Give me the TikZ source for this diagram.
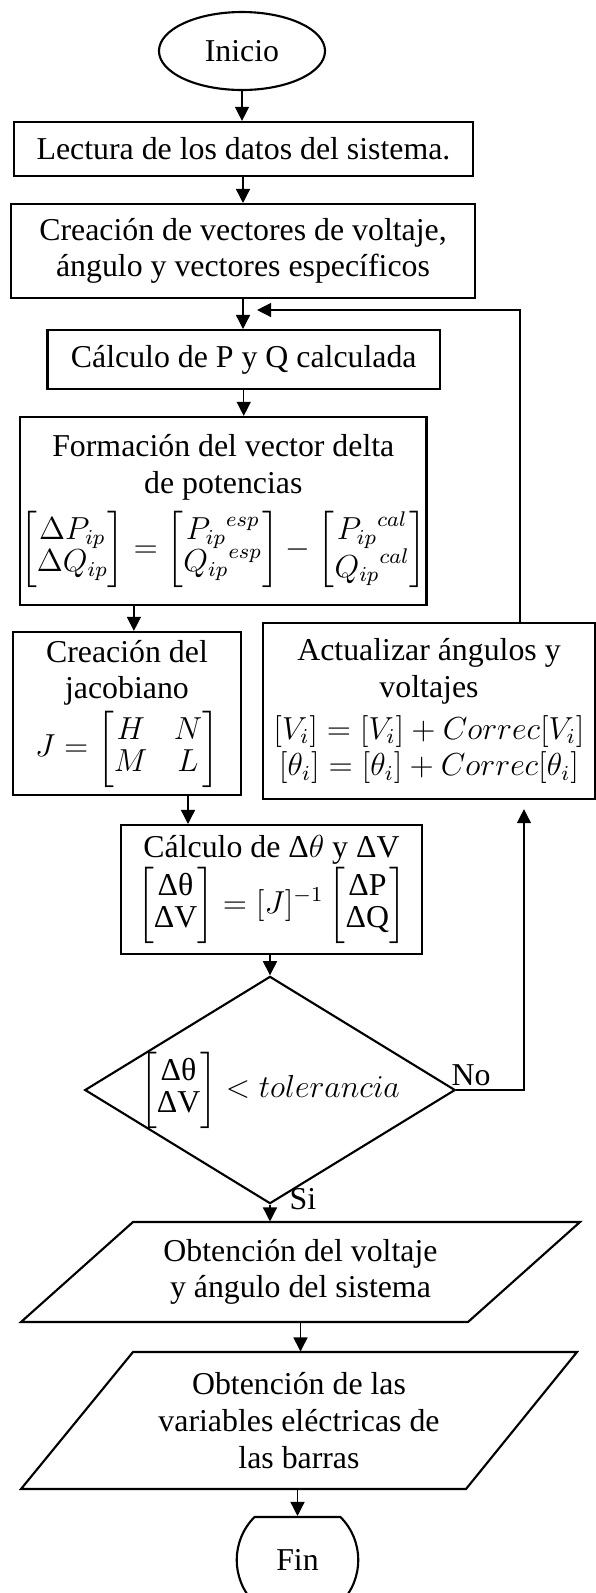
\documentclass[tikz,border=0pt]{standalone}
\usepackage{amsmath}
\usepackage{fontspec}
\setmainfont{Liberation Serif}
\usetikzlibrary{shapes.geometric,shapes.misc,arrows.meta}
\renewcommand{\arraystretch}{0.87}

\begin{document}
\begin{tikzpicture}[x=0.377pt,y=-0.377pt,
  >={Triangle[length=5.3pt,width=5.3pt]},
  every node/.style={font=\fontsize{12}{13.8}\selectfont, inner sep=0pt},
  box/.style={draw, line width=0.8pt, align=center},
  flow/.style={line width=0.5pt}]
\useasboundingbox (0,0) rectangle (596,1593);
\clip (0,0) rectangle (596,1593);
\node[box, ellipse, minimum width=62.6pt, minimum height=29.4pt] (ini) at (242,51) {Inicio};
\node[box, minimum width=173pt, minimum height=20.4pt] (lec) at (243.5,149) {Lectura de los datos del sistema.};
\node[box, minimum width=174.9pt, minimum height=35.4pt] (cre) at (243,251) {Creación de vectores de voltaje,\\ ángulo y vectores específicos};
\node[box, minimum width=148pt, minimum height=22.2pt] (cpq) at (243.75,359.5) {Cálculo de P y Q calculada};
\node[box, minimum width=150.6pt, minimum height=70.9pt] (for) at (223.3,511) {Formación del vector delta\\ de potencias\\[3pt]
  $\begin{bmatrix}\Delta P_{ip}\\ \Delta Q_{ip}\end{bmatrix}=\begin{bmatrix}{P_{ip}}^{esp}\\ {Q_{ip}}^{esp}\end{bmatrix}-\begin{bmatrix}{P_{ip}}^{cal}\\ {Q_{ip}}^{cal}\end{bmatrix}$};
\node[box, minimum width=86pt, minimum height=61.5pt] (jac) at (127,713.5) {Creación del\\ jacobiano\\[1pt]
  $J=\begin{bmatrix}H & N\\ M & L\end{bmatrix}$};
\node[box, minimum width=125.2pt, minimum height=66.4pt] (act) at (429,711) {Actualizar ángulos y\\ voltajes\\[2pt]
  $[V_i]=[V_i]+Correc[V_i]$\\ $[\theta_i]=[\theta_i]+Correc[\theta_i]$};
\node[box, minimum width=113.5pt, minimum height=48.6pt] (cdt) at (271.5,889.5) {Cálculo de Δ$\theta$ y ΔV\\
  $\begin{bmatrix}\text{Δθ}\\ \text{ΔV}\end{bmatrix}=[J]^{-1}\begin{bmatrix}\text{ΔP}\\ \text{ΔQ}\end{bmatrix}$};
\node[box, diamond, aspect=1.63, inner sep=-1pt, minimum width=128.6pt, minimum height=78.8pt] (dec) at (270,1090)
  {$\begin{bmatrix}\text{Δθ}\\ \text{ΔV}\end{bmatrix}<tolerancia$};
\node[align=center, minimum height=37.7pt] (obta) at (300.5,1272) {Obtención del voltaje\\ y ángulo del sistema};
\draw[line width=0.8pt] (133,1222) -- (580,1222) -- (468,1322) -- (21,1322) -- cycle;
\node[align=center, minimum height=51.6pt] (obtb) at (299,1420.5) {Obtención de las\\ variables eléctricas de\\ las barras};
\draw[line width=0.8pt] (133,1352) -- (577,1352) -- (466,1489) -- (21,1489) -- cycle;
\node[box, rounded rectangle, rounded rectangle arc length=90, minimum width=41.1pt, minimum height=32.4pt] (fin) at (297.5,1560) {Fin};
\node (no) at (471,1075) {No};
\node (si) at (303,1199) {Si};
\draw[flow,->] (ini.south) -- (ini.south |- lec.north);
\draw[flow,->] (lec.south -| cre.north) -- (cre.north);
\draw[flow,->] (cre.south) -- (cre.south |- cpq.north);
\draw[flow,->] (cpq.south) -- (cpq.south |- for.north);
\draw[flow,->] ([xshift=2.6pt]for.south -| jac.north) coordinate (f1) -- (f1 |- jac.north);
\draw[flow,->] ([xshift=23pt]jac.south) coordinate (j1) -- (j1 |- cdt.north);
\draw[flow,->] (cdt.south -| dec.north) -- (dec.north);
\draw[flow,->] (dec.south) -- (dec.south |- obta.north);
\draw[flow,->] (obta.south) -- (obta.south |- obtb.north);
\draw[flow,->] (obtb.south -| fin.north) -- (fin.north);
\draw[flow,->,shorten >=3.4pt] (dec.east) -| ([xshift=35.8pt]act.south);
\coordinate (fb) at (243,310);
\draw[flow,->,shorten >=5.3pt] ([xshift=34.3pt]act.north) |- (fb);
\end{tikzpicture}
\end{document}
